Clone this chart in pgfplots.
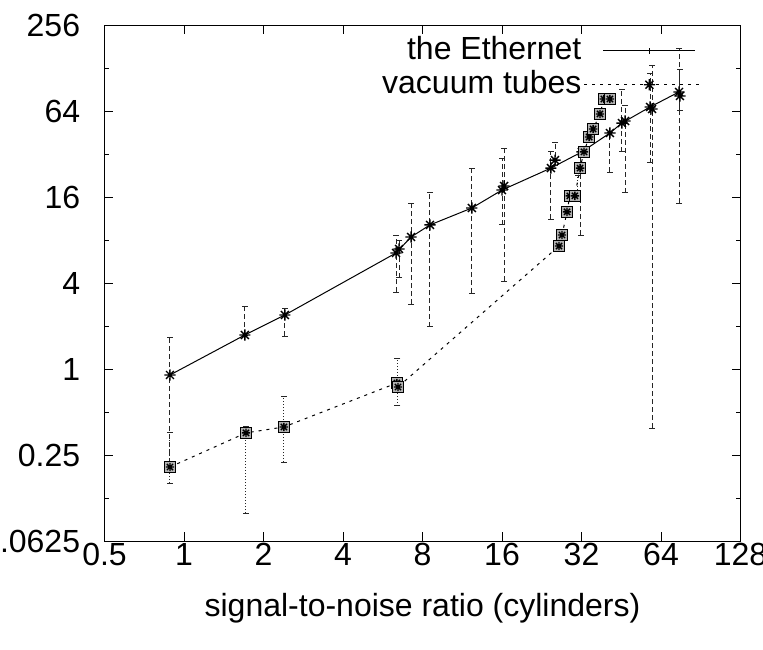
\documentclass[border=0pt]{standalone}
\usepackage{pgfplots}
\pgfplotsset{compat=1.18}
\usepackage{fontspec}
\setmainfont{Liberation Sans}
\usetikzlibrary{plotmarks}

\pgfdeclareplotmark{gstar}{%
 \pgfpathmoveto{\pgfqpoint{-\pgfplotmarksize}{0pt}}\pgfpathlineto{\pgfqpoint{\pgfplotmarksize}{0pt}}%
 \pgfpathmoveto{\pgfqpoint{0pt}{-\pgfplotmarksize}}\pgfpathlineto{\pgfqpoint{0pt}{\pgfplotmarksize}}%
 \pgfpathmoveto{\pgfqpoint{-.707\pgfplotmarksize}{-.707\pgfplotmarksize}}\pgfpathlineto{\pgfqpoint{.707\pgfplotmarksize}{.707\pgfplotmarksize}}%
 \pgfpathmoveto{\pgfqpoint{-.707\pgfplotmarksize}{.707\pgfplotmarksize}}\pgfpathlineto{\pgfqpoint{.707\pgfplotmarksize}{-.707\pgfplotmarksize}}%
 \pgfusepathqstroke}
\pgfdeclareplotmark{boxstar}{%
 \pgfpathrectangle{\pgfqpoint{-\pgfplotmarksize}{-\pgfplotmarksize}}{\pgfqpoint{2\pgfplotmarksize}{2\pgfplotmarksize}}%
 \pgfusepathqfillstroke
 \pgfpathmoveto{\pgfqpoint{-.75\pgfplotmarksize}{0pt}}\pgfpathlineto{\pgfqpoint{.75\pgfplotmarksize}{0pt}}%
 \pgfpathmoveto{\pgfqpoint{0pt}{-.75\pgfplotmarksize}}\pgfpathlineto{\pgfqpoint{0pt}{.75\pgfplotmarksize}}%
 \pgfpathmoveto{\pgfqpoint{-.55\pgfplotmarksize}{-.55\pgfplotmarksize}}\pgfpathlineto{\pgfqpoint{.55\pgfplotmarksize}{.55\pgfplotmarksize}}%
 \pgfpathmoveto{\pgfqpoint{-.55\pgfplotmarksize}{.55\pgfplotmarksize}}\pgfpathlineto{\pgfqpoint{.55\pgfplotmarksize}{-.55\pgfplotmarksize}}%
 \pgfusepathqstroke}

% Ethernet: main line
\pgfplotstableread{
x y
0.885 0.908
1.70 1.73
2.41 2.39
6.35 6.49
7.24 8.40
8.54 10.2
12.3 13.4
16.0 17.9
24.5 25.5
32.1 33.1
41.0 44.9
45.5 52.7
58.2 68.3
74.9 87.0
}\ethline
% Ethernet: extra marks
\pgfplotstableread{
x y
6.52 6.92
16.3 19.1
25.4 29.0
46.8 54.5
59.2 66.1
75.5 81.5
}\ethextra
% Ethernet error bars (x, value), pairs separated by nan
\pgfplotstableread{
x y
0.885 0.220
0.885 1.675
0.885 nan
1.70 1.73
1.70 2.72
1.70 nan
2.41 1.70
2.41 2.67
2.41 nan
6.35 3.46
6.35 8.67
6.35 nan
6.52 4.34
6.52 8.0
6.52 nan
7.24 2.85
7.24 14.5
7.24 nan
8.54 1.97
8.54 17.3
8.54 nan
12.3 3.40
12.3 25.5
12.3 nan
16.0 10.2
16.0 30.0
16.0 nan
16.3 4.13
16.3 34.7
16.3 nan
24.5 11.2
24.5 33.1
24.5 nan
25.4 26.8
25.4 38.8
25.4 nan
31.8 8.67
31.8 34.1
31.8 nan
41.0 23.9
41.0 44.9
41.0 nan
45.5 33.1
45.5 89.8
45.5 nan
46.8 17.1
46.8 70.5
46.8 nan
58.2 27.7
58.2 118
58.2 nan
59.2 0.386
59.2 134
59.2 nan
74.9 14.5
74.9 174
74.9 nan
75.5 65.0
75.5 124
}\etherr
% Vacuum tubes
\pgfplotstableread{
x y
0.885 0.206
1.717 0.357
2.39 0.393
6.40 0.798
6.46 0.748
26.3 7.26
27.0 8.67
28.2 12.6
28.9 16.3
30.2 16.3
31.6 25.5
32.7 33.1
34.2 42.1
35.4 47.9
37.6 61.0
38.9 77.7
41.0 77.7
}\vacline
\pgfplotstableread{
x y
0.885 0.159
0.885 0.357
0.885 nan
1.717 0.098
1.717 0.393
1.717 nan
2.39 0.223
2.39 0.637
2.39 nan
6.43 0.551
6.43 1.19
6.43 nan
31.0 17.1
31.0 22.8
}\vacerr

\begin{document}
\fontsize{16pt}{19pt}\selectfont
\begin{tikzpicture}
\begin{axis}[
  scale only axis, width=318pt, height=258pt,
  xmode=log, ymode=log, log basis x=2, log basis y=2,
  xmin=0.5, xmax=128, ymin=0.0625, ymax=256,
  xtick={0.5,1,2,4,8,16,32,64,128},
  xticklabels={0.5,1,2,4,8,16,32,64,128},
  ytick={0.0625,0.25,1,4,16,64,256},
  yticklabels={0.0625,0.25,1,4,16,64,256},
  minor tick num=0,
  extra y ticks={0.125,0.5,2,8,32,128},
  extra y tick labels={},
  extra y tick style={major tick length=2.5pt},
  /pgf/number format/assume math mode=true,
  tick align=inside,
  major tick length=4.5pt,
  every tick/.style={black, line width=0.5pt},
  axis line style={line width=0.5pt},
  tick label style={font=\fontsize{16pt}{19pt}\selectfont},
  xticklabel style={anchor=base, yshift=-12pt, inner sep=0pt},
  yticklabel style={anchor=east, inner sep=0pt, xshift=-12pt},
  xlabel={signal-to-noise ratio (cylinders)},
  xlabel style={at={(axis description cs:0.5,0)}, anchor=base, yshift=-37.5pt, inner sep=0pt,
    font=\fontsize{16pt}{19pt}\selectfont},
  unbounded coords=jump,
  legend style={draw=none, fill=none, at={(0.936,0.978)}, anchor=north east,
    inner sep=0pt, row sep=3pt, nodes={inner sep=0pt},
    font=\fontsize{16pt}{19pt}\selectfont},
  legend cell align=right,
  legend plot pos=right,
]
% error bars
\addplot[forget plot, black!85, line width=0.5pt, dash pattern=on 2.5pt off 1.5pt,
  mark=-, mark size=1.5pt, mark options={solid}] table {\etherr};
\addplot[forget plot, black!85, line width=0.5pt, dash pattern=on 0.5pt off 1pt,
  mark=-, mark size=1.5pt, mark options={solid}] table {\vacerr};
% lines
\addplot[forget plot, black, line width=0.5pt, mark=gstar, mark size=2.8pt,
  mark options={line width=0.7pt}] table {\ethline};
\addplot[forget plot, only marks, black, line width=0.7pt, mark=gstar, mark size=2.8pt] table {\ethextra};
\addplot[forget plot, black, line width=0.5pt, dash pattern=on 1.5pt off 2.5pt,
  mark=boxstar, mark size=2.8pt, mark options={solid, fill=gray!60, line width=0.7pt}] table {\vacline};
% legend
\addlegendimage{black, line width=0.5pt, legend image code/.code={
  \path[draw=none, fill=none, use as bounding box] (0pt,-2pt) rectangle (59pt,2pt);
  \draw[black, line width=0.5pt] (11pt,0pt) -- (57pt,0pt);
  \draw[black, line width=0.5pt] (34pt,-1.5pt) -- (34pt,1.5pt);}}
\addlegendentry{the Ethernet}
\addlegendimage{black, line width=0.5pt, legend image code/.code={
  \path[draw=none, fill=none, use as bounding box] (0pt,-2pt) rectangle (59pt,2pt);
  \draw[black, line width=0.5pt, dash pattern=on 1.5pt off 2.5pt] (1.5pt,0pt) -- (59pt,0pt);
  \draw[black, line width=0.7pt, mark=gstar, mark size=2.8pt] plot coordinates {(34pt,0pt)};}}
\addlegendentry{vacuum tubes}
\end{axis}
\pgfresetboundingbox
\path[use as bounding box] (-52.25pt,-54pt) rectangle (329.25pt,270.5pt);
\end{tikzpicture}
\end{document}
